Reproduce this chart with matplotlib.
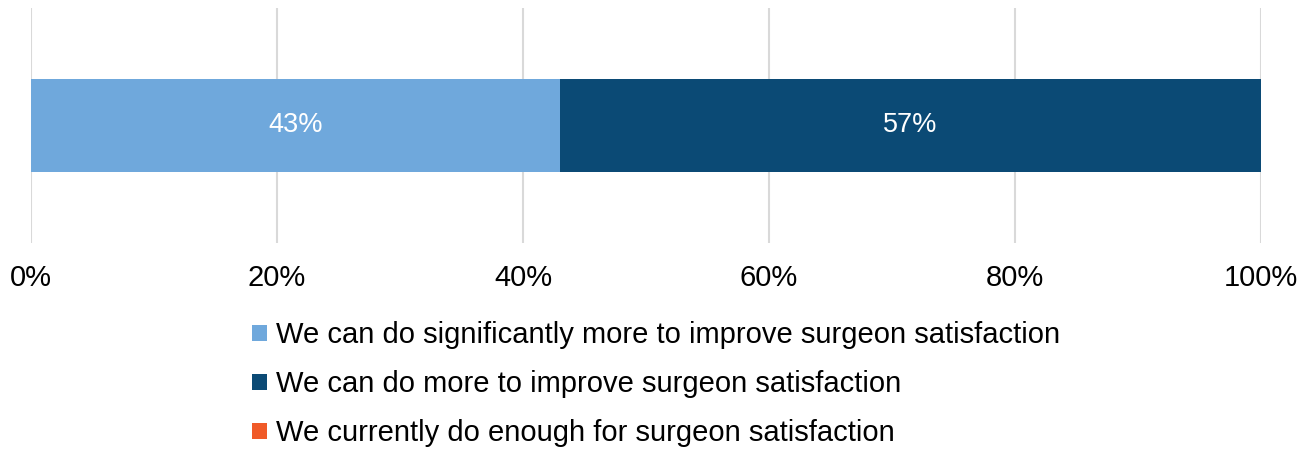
import matplotlib.pyplot as plt

plt.rcParams['font.family'] = ['Liberation Sans', 'DejaVu Sans']

# survey answers, share of respondents (%)
categories = ['']
labels = [
    'We can do significantly more to improve surgeon satisfaction',
    'We can do more to improve surgeon satisfaction',
    'We currently do enough for surgeon satisfaction',
]
values = [43, 57, 0]
colors = ['#6FA8DC', '#0B4A75', '#F05A28']
ticks = [0, 20, 40, 60, 80, 100]

fig = plt.figure(figsize=(13.12, 4.49), dpi=100)
ax = fig.add_axes([0.0236, 0.459, 0.9375, 0.523])

left = 0
for lab, v, c in zip(labels, values, colors):
    bars = ax.barh(categories, v, left=left, height=0.4, color=c, label=lab, zorder=2)
    if v > 0:
        ax.bar_label(bars, labels=[f'{v}%'], label_type='center',
                     color='white', fontsize=19.5)
    left += v

ax.set_xlim(0, 100)
ax.set_ylim(-0.5, 0.5)
ax.set_xticks(ticks)
ax.set_xticklabels([f'{t}%' for t in ticks], fontsize=21)
ax.set_yticks([])
ax.tick_params(axis='x', length=0, pad=15)
ax.grid(axis='x', color='#D9D9D9', linewidth=1.5, zorder=0)
for s in ax.spines.values():
    s.set_visible(False)

fig.legend(loc='upper center', bbox_to_anchor=(0.5, 0.343), ncol=1, frameon=False,
           fontsize=21, handlelength=0.5, handleheight=0.5, handletextpad=0.3,
           labelspacing=0.72)

fig.savefig('out.png', dpi=100)
